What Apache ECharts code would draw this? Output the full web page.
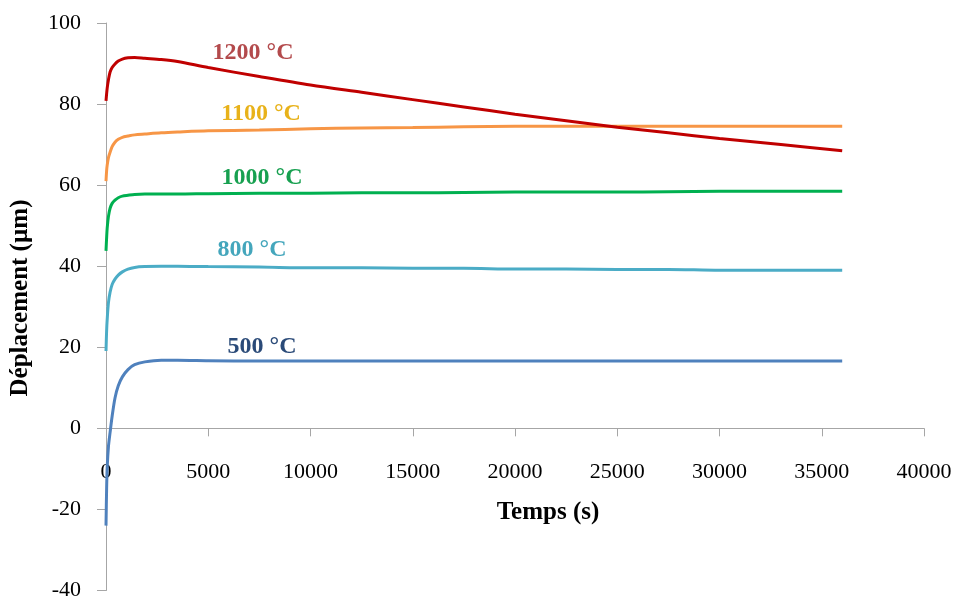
<!DOCTYPE html>
<html>
<head>
<meta charset="utf-8">
<script src="https://cdn.jsdelivr.net/npm/echarts@6/dist/echarts.min.js"></script>
<style>html,body{margin:0;padding:0;background:#fff}#c{width:955px;height:601px}</style>
</head>
<body>
<div id="c"></div>
<script>
// Time (s)
const times = [0, 30, 60, 120, 200, 300, 440, 600, 800, 1075, 1400, 1900, 2700, 3500, 5000, 7500, 10000, 12500, 15000, 17500, 20000, 22500, 25000, 27500, 30000, 33000, 36000];
// Displacement (µm) per temperature
const d1200 = [80.8, 82.5, 84.0, 86.0, 87.9, 89.0, 89.9, 90.6, 91.1, 91.4, 91.5, 91.3, 91.0, 90.5, 89.0, 86.8, 84.7, 82.9, 81.1, 79.3, 77.5, 75.9, 74.3, 72.9, 71.5, 70.0, 68.5];
const d1100 = [61.0, 63.5, 65.0, 66.8, 68.1, 69.5, 70.6, 71.3, 71.8, 72.1, 72.4, 72.6, 72.9, 73.1, 73.4, 73.6, 73.9, 74.1, 74.2, 74.4, 74.5, 74.5, 74.5, 74.5, 74.5, 74.5, 74.5];
const d1000 = [43.8, 47.0, 49.5, 52.3, 54.3, 55.5, 56.3, 56.9, 57.3, 57.5, 57.7, 57.8, 57.8, 57.8, 57.9, 58.0, 58.0, 58.1, 58.1, 58.2, 58.3, 58.3, 58.3, 58.4, 58.5, 58.5, 58.5];
const d800 = [19.1, 24.0, 27.0, 31.0, 33.6, 35.5, 36.8, 37.8, 38.6, 39.3, 39.7, 39.9, 40.0, 40.0, 39.9, 39.8, 39.6, 39.6, 39.5, 39.5, 39.3, 39.3, 39.2, 39.2, 39.0, 39.0, 39.0];
const d500 = [-24.0, -15.0, -9.5, -4.5, -1.0, 3.0, 7.5, 10.5, 12.7, 14.5, 15.7, 16.4, 16.8, 16.8, 16.7, 16.6, 16.6, 16.6, 16.6, 16.6, 16.6, 16.6, 16.6, 16.6, 16.6, 16.6, 16.6];
// Series labels and their anchor (data units)
const seriesNames = ['500 °C', '800 °C', '1000 °C', '1100 °C', '1200 °C'];
const labelX = [7628, 7139, 7628, 7580, 7188];
const labelY = [20.1, 44.0, 61.8, 77.7, 92.7];
// Axis ticks
const xTicks = {min: 0, max: 40000, step: 5000};
const yTicks = {min: -40, max: 100, step: 20};

const values = [d500, d800, d1000, d1100, d1200];
const lineColors = ['#4F81BD', '#4BACC6', '#00B050', '#F79646', '#C00000'];
const labelColors = ['#2A4A78', '#44A6BC', '#17A050', '#E8B21A', '#B34A4C'];
const FONT = '"Liberation Serif", "Times New Roman", serif';

const GRID = {left: 106, right: 31, top: 23, bottom: 10.5};
const gridH = 601 - GRID.top - GRID.bottom;
// distance from the grid bottom to the y = 0 line
const zeroOffset = gridH * (0 - yTicks.min) / (yTicks.max - yTicks.min);

const series = values.map((vals, i) => ({
  name: seriesNames[i],
  type: 'line',
  data: times.map((t, k) => [t, vals[k]]),
  showSymbol: false,
  smooth: 0.3,
  lineStyle: {width: 3, color: lineColors[i]},
  itemStyle: {color: lineColors[i]},
  z: 2 + i,
  markPoint: {
    symbol: 'circle',
    symbolSize: 1,
    itemStyle: {color: 'rgba(0,0,0,0)'},
    label: {
      show: true, position: 'inside',
      formatter: seriesNames[i],
      color: labelColors[i],
      fontFamily: FONT, fontWeight: 'bold', fontSize: 24
    },
    data: [{coord: [labelX[i], labelY[i]]}]
  }
}));

const chart = echarts.init(document.getElementById('c'));
chart.setOption({
  animation: false,
  backgroundColor: '#fff',
  grid: Object.assign({containLabel: false, outerBoundsMode: 'none'}, GRID),
  xAxis: {
    type: 'value', min: xTicks.min, max: xTicks.max, interval: xTicks.step,
    position: 'bottom', offset: -zeroOffset,
    axisLine: {show: true, onZero: false, lineStyle: {color: '#A6A6A6', width: 1}},
    axisTick: {show: true, inside: false, length: 8, lineStyle: {color: '#A6A6A6'}},
    axisLabel: {margin: 33, color: '#000', fontFamily: FONT, fontSize: 22, formatter: v => String(v)},
    splitLine: {show: false}
  },
  yAxis: {
    type: 'value', min: yTicks.min, max: yTicks.max, interval: yTicks.step,
    axisLine: {show: true, onZero: false, lineStyle: {color: '#A6A6A6', width: 1}},
    axisTick: {show: true, length: 9, lineStyle: {color: '#A6A6A6'}},
    axisLabel: {margin: 25, color: '#000', fontFamily: FONT, fontSize: 22, formatter: v => String(v)},
    splitLine: {show: false}
  },
  graphic: [
    {type: 'text', x: 548, y: 513,
      style: {text: 'Temps (s)', fontFamily: FONT, fontWeight: 'bold', fontSize: 25, fill: '#000', align: 'center', verticalAlign: 'middle'}},
    {type: 'text', x: 21, y: 298, rotation: Math.PI / 2,
      style: {text: 'Déplacement (µm)', fontFamily: FONT, fontWeight: 'bold', fontSize: 25, fill: '#000', align: 'center', verticalAlign: 'middle'}}
  ],
  series: series
});
</script>
</body>
</html>
